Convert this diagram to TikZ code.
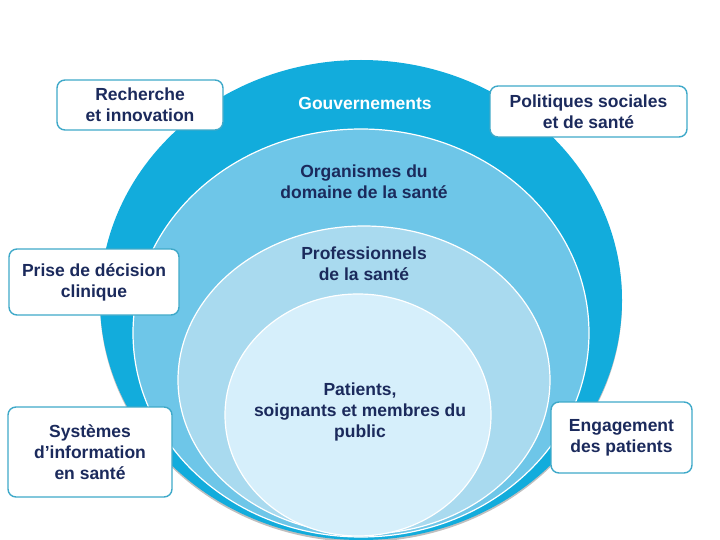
\documentclass[tikz,border=0pt]{standalone}
\usepackage{fontspec}
\setmainfont{Liberation Sans}
\definecolor{cOuter}{HTML}{12ACDC}
\definecolor{cSecond}{HTML}{6EC6E8}
\definecolor{cThird}{HTML}{A9DAEF}
\definecolor{cInner}{HTML}{D6EFFB}
\definecolor{navy}{HTML}{1B2A5C}
\definecolor{boxline}{HTML}{3FA9C9}
\tikzset{
  ring/.style={draw=white, line width=1.2pt},
  lbl/.style={text=navy, font=\bfseries\fontsize{17.5}{21}\selectfont, align=center, inner sep=0pt},
  tagbox/.style={draw=boxline, line width=1.4pt, fill=white, rounded corners=8pt,
    text=navy, font=\bfseries\fontsize{17.5}{21}\selectfont, align=center, inner sep=0pt}
}
\begin{document}
\begin{tikzpicture}[x=1pt, y=-1pt]
\useasboundingbox (0,0) rectangle (720,540);
% shadow and rings
\fill[black!25] (361,302) ellipse [x radius=261, y radius=240];
\fill[cOuter] (361,300) ellipse [x radius=261, y radius=240];
\draw[ring, fill=cSecond] (361,333) ellipse [x radius=228, y radius=204];
\draw[ring, fill=cThird] (364,380) ellipse [x radius=186, y radius=154];
\draw[ring, fill=cInner] (358,415) ellipse [x radius=133, y radius=121];
% ring labels
\node[lbl, text=white] (gouv) at (365,103) {Gouvernements};
\node[lbl] (org) at (364,182) {Organismes du\\domaine de la santé};
\node[lbl] (pro) at (364,264) {Professionnels\\de la santé};
\node[lbl] (pat) at (360,412) {Patients,\\soignants et membres du\\public};
% boxes
\node[tagbox, minimum width=166pt, minimum height=50pt] (rech) at (140,105) {Recherche\\et innovation};
\node[tagbox, minimum width=197pt, minimum height=51pt] (poli) at (588.5,111.5) {Politiques sociales\\et de santé};
\node[tagbox, minimum width=170pt, minimum height=66pt] (prise) at (94,282) {Prise de décision\\clinique};
\node[tagbox, minimum width=164pt, minimum height=90pt] (sys) at (90,452) {Systèmes\\d’information\\en santé};
\node[tagbox, minimum width=141pt, minimum height=71pt] (eng) at (621.5,437.5) {Engagement\\des patients};
\end{tikzpicture}
\end{document}
